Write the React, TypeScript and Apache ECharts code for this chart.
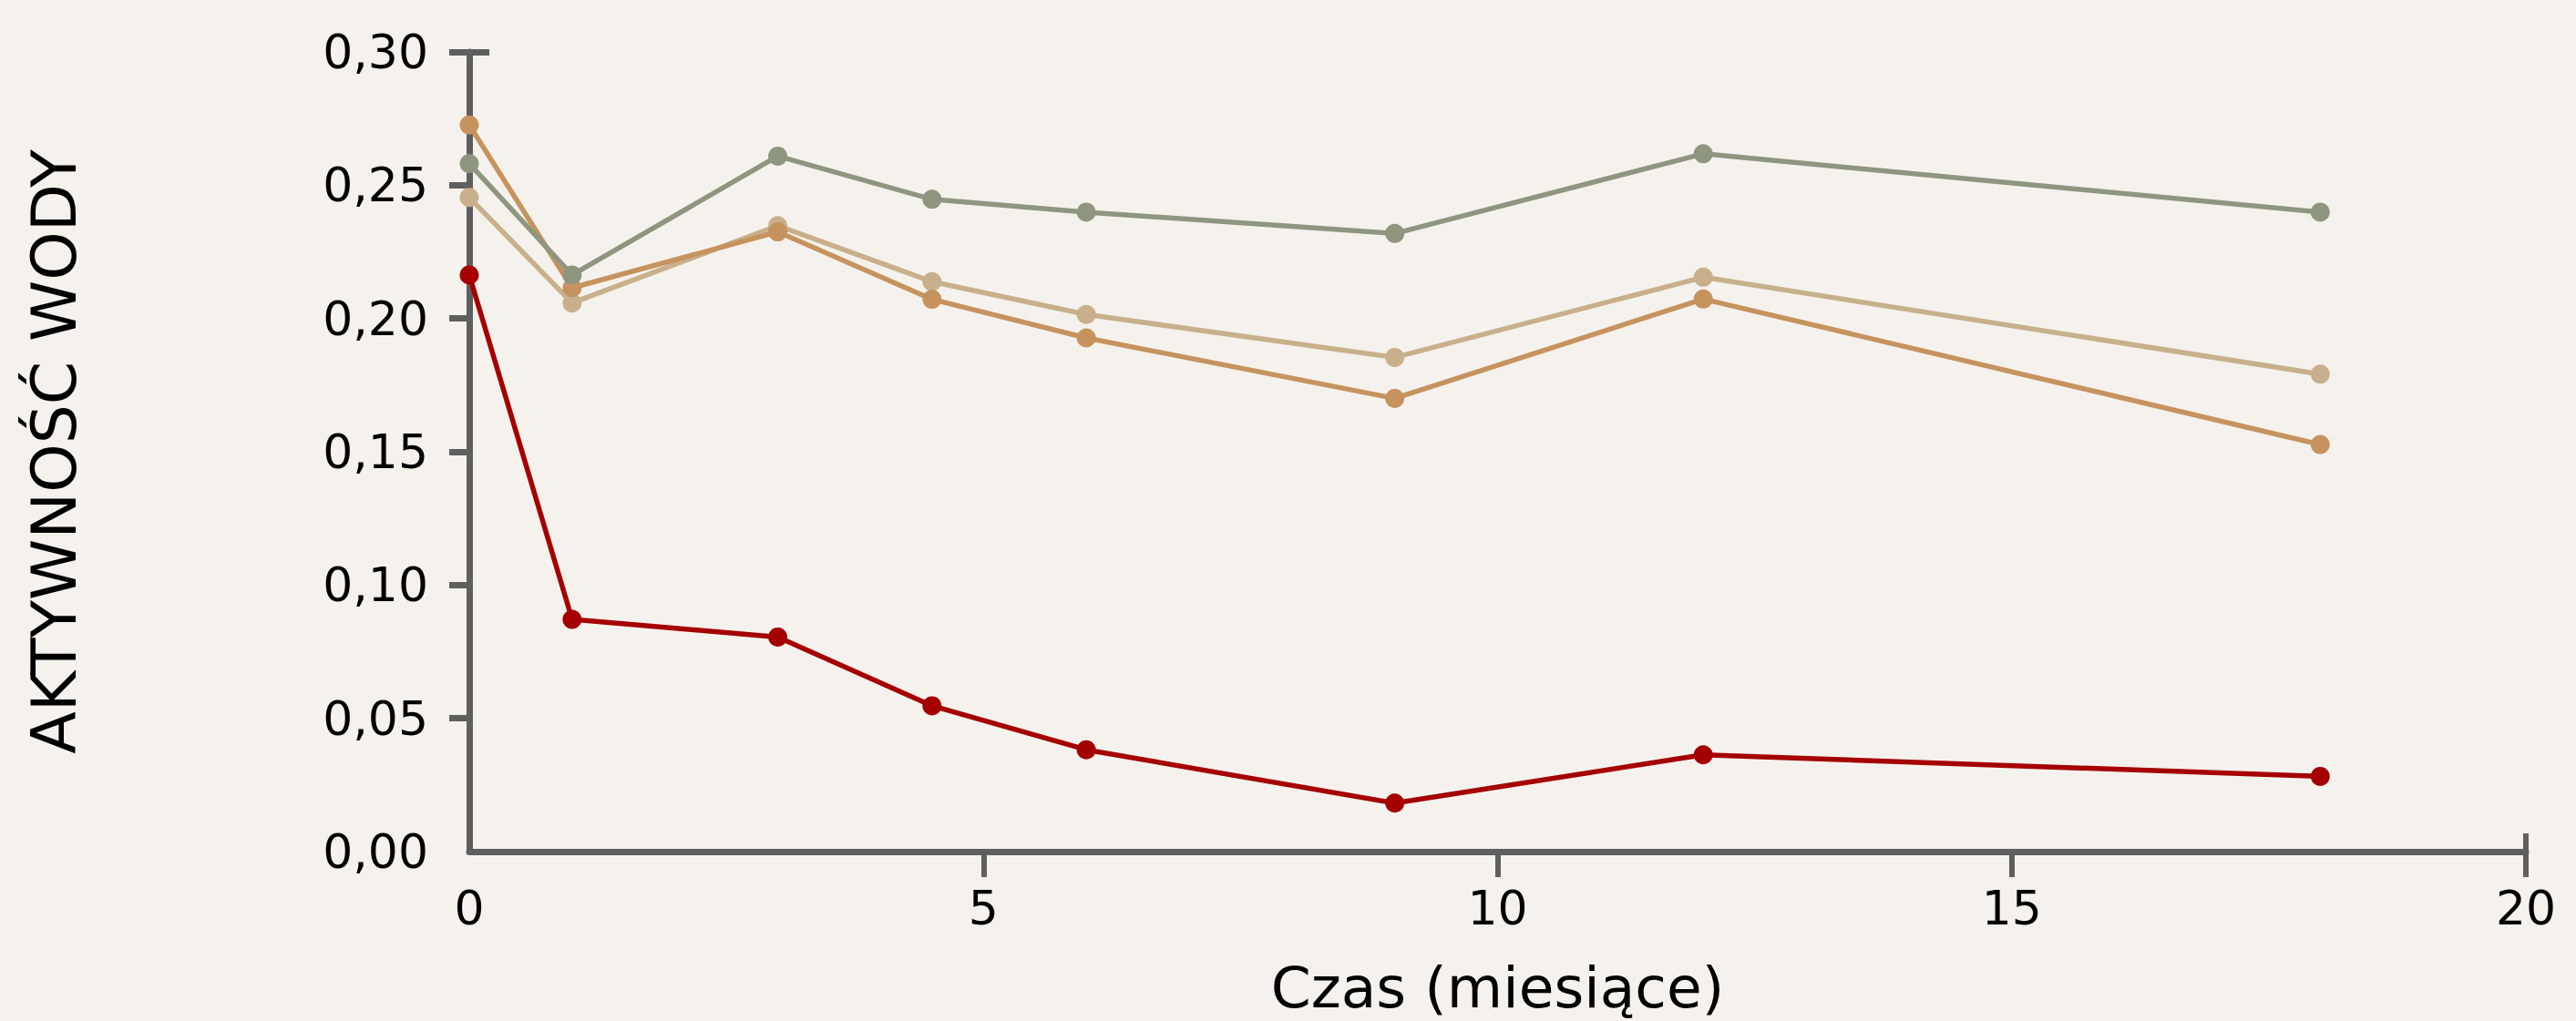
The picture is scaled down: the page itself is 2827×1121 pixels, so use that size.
import React, { useEffect, useRef } from "react";
import * as echarts from "echarts";

const months = [0, 1, 3, 4.5, 6, 9, 12, 18];
const seriesNames = ["Seria 1", "Seria 2", "Seria 3", "Seria 4"];
const tanValues = [0.2454, 0.2058, 0.2348, 0.2138, 0.2015, 0.1854, 0.2155, 0.1791];
const orangeValues = [0.2726, 0.2115, 0.2325, 0.2072, 0.1927, 0.17, 0.2073, 0.1527];
const grayValues = [0.2581, 0.2163, 0.2609, 0.2447, 0.2399, 0.2319, 0.2618, 0.2399];
const redValues = [0.2163, 0.0871, 0.0805, 0.0547, 0.0382, 0.0182, 0.0363, 0.0282];
const xTicks = [5, 10, 15, 20];
const yTicks = [0.05, 0.1, 0.15, 0.2, 0.25, 0.3];

const BG = "#f5f2ed";
const AXIS = "#5f5f5f";
const FONT = "'DejaVu Sans', sans-serif";
const FW = 400;

export default function App() {
  const ref = useRef<HTMLDivElement>(null);
  useEffect(() => {
    document.body.style.margin = "0";
    document.body.style.background = BG;
    const chart = echarts.init(ref.current!, null, { renderer: "svg" });
    const mk = (name: string, vals: number[], color: string, width: number) => ({
      name,
      type: "line",
      data: months.map((m, i) => [m, vals[i]]),
      symbol: "circle",
      symbolSize: 21,
      itemStyle: { color },
      lineStyle: { color, width },
      z: 3,
    });
    chart.setOption({
      animation: false,
      backgroundColor: BG,
      grid: { left: 515, right: 55, top: 57, bottom: 184 },
      xAxis: [
        {
          type: "value",
          min: 0,
          max: 20,
          interval: 5,
          name: "Czas (miesiące)",
          nameLocation: "middle",
          nameGap: 118,
          nameTextStyle: { fontSize: 63, color: "#000", fontFamily: FONT, fontWeight: FW },
          axisLine: { show: true, lineStyle: { color: AXIS, width: 7, cap: "round" } },
          axisTick: { show: true, length: 28, lineStyle: { color: AXIS, width: 6 }, customValues: xTicks },
          axisLabel: { fontSize: 52, color: "#000", margin: 36, fontFamily: FONT, fontWeight: FW },
          splitLine: { show: false },
        },
        {
          type: "value",
          min: 0,
          max: 20,
          position: "bottom",
          axisLine: { show: false },
          axisLabel: { show: false },
          axisTick: { show: true, inside: true, length: 20, lineStyle: { color: AXIS, width: 6 }, customValues: [20] },
          splitLine: { show: false },
        },
      ],
      yAxis: [
        {
          type: "value",
          min: 0,
          max: 0.3,
          interval: 0.05,
          name: "AKTYWNOŚĆ WODY",
          nameLocation: "middle",
          nameGap: 422,
          nameTextStyle: { fontSize: 68, color: "#000", fontFamily: FONT, fontWeight: FW },
          axisLine: { show: true, lineStyle: { color: AXIS, width: 7, cap: "round" } },
          axisTick: { show: true, length: 22, lineStyle: { color: AXIS, width: 7 }, customValues: yTicks },
          axisLabel: {
            fontSize: 52,
            color: "#000",
            margin: 45,
            fontFamily: FONT,
            fontWeight: FW,
            formatter: (v: number) => v.toFixed(2).replace(".", ","),
          },
          splitLine: { show: false },
        },
        {
          type: "value",
          min: 0,
          max: 0.3,
          position: "left",
          axisLine: { show: false },
          axisLabel: { show: false },
          axisTick: { show: true, inside: true, length: 22, lineStyle: { color: AXIS, width: 7 }, customValues: [0.3] },
          splitLine: { show: false },
        },
      ],
      series: [
        mk(seriesNames[0], tanValues, "#c8b08c", 5.5),
        mk(seriesNames[1], orangeValues, "#c6935f", 5.5),
        mk(seriesNames[2], grayValues, "#8f967f", 5.5),
        mk(seriesNames[3], redValues, "#a50000", 5.5),
      ],
    });
    return () => chart.dispose();
  }, []);
  return <div ref={ref} style={{ width: 2827, height: 1121 }} />;
}
